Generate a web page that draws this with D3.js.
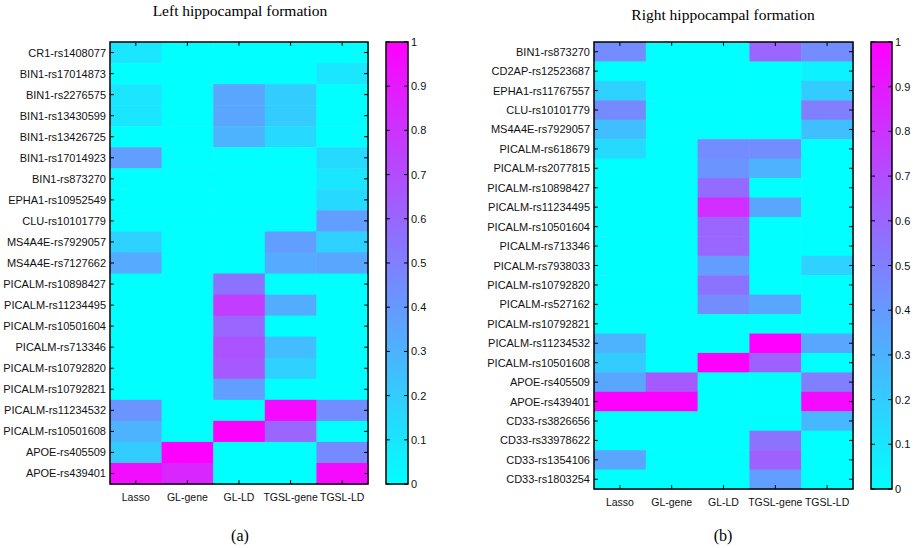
<!DOCTYPE html>
<html>
<head>
<meta charset="utf-8">
<script src="https://cdn.jsdelivr.net/npm/d3@7"></script>
<style>
  body { margin: 0; background: #fff; }
  svg text { font-family: "Liberation Sans", Arial, sans-serif; }
  .serif { font-family: "Liberation Serif", "Times New Roman", serif !important; }
</style>
</head>
<body>
<div id="chart"></div>
<script>
const methods = ['Lasso', 'GL-gene', 'GL-LD', 'TGSL-gene', 'TGSL-LD'];

const leftSnps = ['CR1-rs1408077', 'BIN1-rs17014873', 'BIN1-rs2276575', 'BIN1-rs13430599',
  'BIN1-rs13426725', 'BIN1-rs17014923', 'BIN1-rs873270', 'EPHA1-rs10952549', 'CLU-rs10101779',
  'MS4A4E-rs7929057', 'MS4A4E-rs7127662', 'PICALM-rs10898427', 'PICALM-rs11234495',
  'PICALM-rs10501604', 'PICALM-rs713346', 'PICALM-rs10792820', 'PICALM-rs10792821',
  'PICALM-rs11234532', 'PICALM-rs10501608', 'APOE-rs405509', 'APOE-rs439401'];

// rows follow leftSnps, columns follow methods
const leftValues = [
  [0.10, 0, 0, 0, 0],
  [0, 0, 0, 0, 0.10],
  [0.10, 0, 0.35, 0.20, 0],
  [0.10, 0, 0.35, 0.20, 0],
  [0, 0, 0.30, 0.15, 0],
  [0.38, 0, 0, 0, 0.15],
  [0, 0, 0, 0, 0.10],
  [0, 0, 0, 0, 0.15],
  [0, 0, 0, 0, 0.38],
  [0.18, 0, 0, 0.38, 0.18],
  [0.33, 0, 0, 0.33, 0.35],
  [0, 0, 0.55, 0, 0],
  [0, 0, 0.76, 0.32, 0],
  [0, 0, 0.60, 0, 0],
  [0, 0, 0.68, 0.26, 0],
  [0, 0, 0.65, 0.18, 0],
  [0, 0, 0.38, 0, 0],
  [0.42, 0, 0, 0.96, 0.45],
  [0.30, 0, 1.00, 0.60, 0],
  [0.20, 1.00, 0, 0, 0.46],
  [0.95, 0.85, 0, 0, 0.96]
];

const rightSnps = ['BIN1-rs873270', 'CD2AP-rs12523687', 'EPHA1-rs11767557', 'CLU-rs10101779',
  'MS4A4E-rs7929057', 'PICALM-rs618679', 'PICALM-rs2077815', 'PICALM-rs10898427',
  'PICALM-rs11234495', 'PICALM-rs10501604', 'PICALM-rs713346', 'PICALM-rs7938033',
  'PICALM-rs10792820', 'PICALM-rs527162', 'PICALM-rs10792821', 'PICALM-rs11234532',
  'PICALM-rs10501608', 'APOE-rs405509', 'APOE-rs439401', 'CD33-rs3826656',
  'CD33-rs33978622', 'CD33-rs1354106', 'CD33-rs1803254'];

const rightValues = [
  [0.45, 0, 0, 0.60, 0.45],
  [0, 0, 0, 0, 0.05],
  [0.18, 0, 0, 0, 0.20],
  [0.46, 0, 0, 0, 0.50],
  [0.25, 0, 0, 0, 0.25],
  [0.14, 0, 0.45, 0.45, 0],
  [0, 0, 0.42, 0.30, 0],
  [0, 0, 0.58, 0, 0],
  [0, 0, 0.82, 0.35, 0],
  [0, 0, 0.60, 0, 0],
  [0, 0, 0.60, 0, 0],
  [0, 0, 0.38, 0, 0.18],
  [0, 0, 0.55, 0, 0],
  [0, 0, 0.45, 0.35, 0],
  [0, 0, 0, 0, 0],
  [0.30, 0, 0, 1.00, 0.35],
  [0.20, 0, 1.00, 0.62, 0],
  [0.35, 0.65, 0, 0, 0.50],
  [1.00, 1.00, 0, 0, 0.96],
  [0, 0, 0, 0, 0.28],
  [0, 0, 0, 0.55, 0],
  [0.35, 0, 0, 0.62, 0],
  [0, 0, 0, 0.38, 0]
];

const colorTicks = [0, 0.1, 0.2, 0.3, 0.4, 0.5, 0.6, 0.7, 0.8, 0.9, 1];

const svg = d3.select('#chart').
append('svg').
attr('width', 915).
attr('height', 548);

// matlab "cool" colormap
const color = d3.scaleLinear().domain([0, 1]).range(['#00ffff', '#ff00ff']);

const grad = svg.append('defs').append('linearGradient').
attr('id', 'coolgrad').
attr('x1', 0).attr('y1', 1).attr('x2', 0).attr('y2', 0);
grad.append('stop').attr('offset', '0%').attr('stop-color', color(0));
grad.append('stop').attr('offset', '100%').attr('stop-color', color(1));

function drawPanel(cfg) {
  const g = svg.append('g');
  const x = d3.scaleBand().domain(methods).range([cfg.left, cfg.right]);
  const y = d3.scaleBand().domain(cfg.snps).range([cfg.top, cfg.bottom]);

  const cells = [];
  cfg.values.forEach((row, i) => row.forEach((v, j) => cells.push({ snp: cfg.snps[i], m: methods[j], v })));

  g.selectAll('rect.cell').
  data(cells).
  enter().
  append('rect').
  attr('class', 'cell').
  attr('x', d => x(d.m)).
  attr('y', d => y(d.snp)).
  attr('width', x.bandwidth() + 0.5).
  attr('height', y.bandwidth() + 0.5).
  attr('fill', d => color(d.v));

  const tick = 4;
  // row ticks, left + right
  cfg.snps.forEach(s => {
    const yy = y(s) + y.bandwidth() / 2;
    g.append('line').attr('x1', cfg.left).attr('x2', cfg.left + tick).attr('y1', yy).attr('y2', yy).attr('stroke', '#000');
    g.append('line').attr('x1', cfg.right).attr('x2', cfg.right - tick).attr('y1', yy).attr('y2', yy).attr('stroke', '#000');
    g.append('text').
    attr('x', cfg.left - 4).
    attr('y', yy + 4).
    attr('text-anchor', 'end').
    attr('font-size', '11px').
    attr('fill', '#111').
    text(s);
  });
  // column ticks, top + bottom
  methods.forEach(m => {
    const xx = x(m) + x.bandwidth() / 2;
    g.append('line').attr('x1', xx).attr('x2', xx).attr('y1', cfg.top).attr('y2', cfg.top + tick).attr('stroke', '#000');
    g.append('line').attr('x1', xx).attr('x2', xx).attr('y1', cfg.bottom).attr('y2', cfg.bottom - tick).attr('stroke', '#000');
    g.append('text').
    attr('x', xx).
    attr('y', cfg.bottom + 17).
    attr('text-anchor', 'middle').
    attr('font-size', '10.5px').
    attr('fill', '#111').
    text(m);
  });

  g.append('rect').
  attr('x', cfg.left).attr('y', cfg.top).
  attr('width', cfg.right - cfg.left).attr('height', cfg.bottom - cfg.top).
  attr('fill', 'none').attr('stroke', '#000').attr('stroke-width', 1.5);

  // colorbar
  const cb = svg.append('g');
  const cy = d3.scaleLinear().domain([0, 1]).range([cfg.bottom, cfg.top]);
  cb.append('rect').
  attr('x', cfg.cbLeft).attr('y', cfg.top).
  attr('width', cfg.cbWidth).attr('height', cfg.bottom - cfg.top).
  attr('fill', 'url(#coolgrad)').
  attr('stroke', '#000').attr('stroke-width', 1.5);
  colorTicks.forEach(t => {
    const yy = cy(t);
    cb.append('line').attr('x1', cfg.cbLeft).attr('x2', cfg.cbLeft + 4).attr('y1', yy).attr('y2', yy).attr('stroke', '#000');
    cb.append('line').attr('x1', cfg.cbLeft + cfg.cbWidth).attr('x2', cfg.cbLeft + cfg.cbWidth - 4).attr('y1', yy).attr('y2', yy).attr('stroke', '#000');
    cb.append('text').
    attr('x', cfg.cbLeft + cfg.cbWidth + 3).
    attr('y', yy + 4).
    attr('font-size', '11px').
    attr('fill', '#111').
    text(d3.format('~g')(t));
  });

  svg.append('text').
  attr('class', 'serif').
  attr('x', cfg.titleX).attr('y', cfg.titleY).
  attr('text-anchor', 'middle').
  attr('font-size', '15.5px').
  text(cfg.title);

  svg.append('text').
  attr('class', 'serif').
  attr('x', cfg.titleX).attr('y', 541).
  attr('text-anchor', 'middle').
  attr('font-size', '16px').
  text(cfg.label);
}

drawPanel({
  snps: leftSnps, values: leftValues,
  left: 110, right: 368, top: 42, bottom: 484,
  cbLeft: 386, cbWidth: 22,
  title: 'Left hippocampal formation', titleX: 240, titleY: 16, label: '(a)'
});

drawPanel({
  snps: rightSnps, values: rightValues,
  left: 594, right: 853, top: 42, bottom: 489,
  cbLeft: 871, cbWidth: 21,
  title: 'Right hippocampal formation', titleX: 723, titleY: 20, label: '(b)'
});
</script>
</body>
</html>
